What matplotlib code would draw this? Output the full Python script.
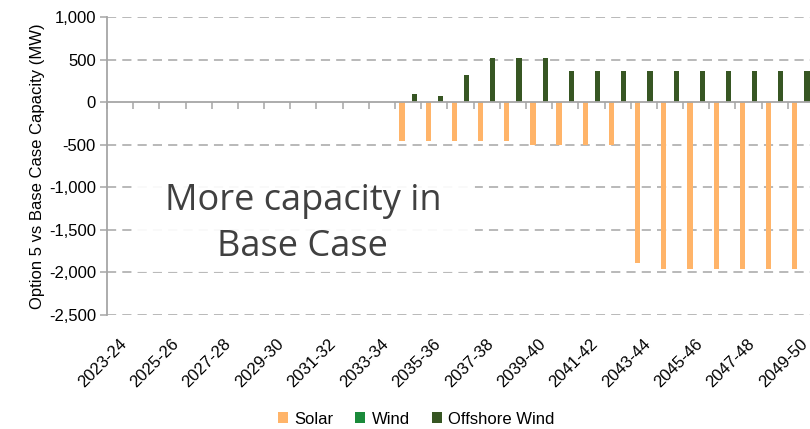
import numpy as np
import matplotlib.pyplot as plt
from matplotlib.patches import Rectangle

# Financial years 2023-24 .. 2049-50
years = [f"{y}-{str(y + 1)[-2:]}" for y in range(2023, 2050)]

solar = [0] * 11 + [-460, -460, -460, -460, -460, -500, -500, -500, -500,
                    -1890, -1960, -1960, -1960, -1960, -1960, -1960]
wind = [0] * 27
offshore = [0] * 11 + [100, 75, 320, 520, 520, 520,
                       370, 370, 370, 370, 370, 370, 370, 370, 370, 370]

yticks = [1000, 500, 0, -500, -1000, -1500, -2000, -2500]

c_solar = '#FFB469'
c_wind = '#1A8A3A'
c_off = '#375623'
grid_c = '#A6A6A6'

plt.rcParams['font.family'] = ['Liberation Sans', 'DejaVu Sans']

fig = plt.figure(figsize=(8.1, 4.29), dpi=100)
ax = fig.add_axes([107 / 810, 114 / 429, 707 / 810, 298 / 429])

x = np.arange(len(years))
bw = 0.2
off = 0.235
ax.bar(x - off, solar, bw, color=c_solar, label='Solar', zorder=3)
ax.bar(x, wind, bw, color=c_wind, label='Wind', zorder=3)
ax.bar(x + off, offshore, bw, color=c_off, label='Offshore Wind', zorder=3)

ax.set_xlim(-0.5, len(years) - 0.5)
ax.set_ylim(-2500, 1000)
ax.set_yticks(yticks)
ax.set_yticklabels([f"{v:,}" for v in yticks], fontsize=12)
for v in yticks:
    if v != 0:
        ax.axhline(v, color=grid_c, lw=1.1, ls=(0, (6, 4)), zorder=1)

# horizontal axis crosses at zero, ticks between categories
ax.spines['bottom'].set_position(('data', 0))
ax.spines['bottom'].set_color(grid_c)
ax.spines['bottom'].set_linewidth(1.3)
ax.spines['bottom'].set_zorder(4)
ax.set_xticks(np.arange(len(years) + 1) - 0.5)
ax.set_xticklabels([])
ax.tick_params(axis='x', direction='out', length=5, color=grid_c, width=1.1)
ax.spines['left'].set_color(grid_c)
ax.spines['left'].set_linewidth(1.3)
ax.tick_params(axis='y', direction='out', length=5, color=grid_c, width=1.1, pad=3)
ax.spines['top'].set_visible(False)
ax.spines['right'].set_visible(False)

# category labels at the bottom of the plot
for i in range(0, len(years), 2):
    ax.text(i - 0.05, -0.07, years[i], transform=ax.get_xaxis_transform(),
            rotation=45, ha='right', va='top', rotation_mode='anchor',
            fontsize=12)

ax.set_ylabel('Option 5 vs Base Case Capacity (MW)', fontsize=12, labelpad=3)

# annotation box
ax.add_patch(Rectangle((0.035, 0.145), 0.485, 0.39, transform=ax.transAxes,
                       facecolor='white', edgecolor='none', alpha=0.92, zorder=2))
ax.text(0.277, 0.305, 'More capacity in\nBase Case', transform=ax.transAxes,
        ha='center', va='center', fontsize=26, color='#404040',
        family=['Open Sans', 'DejaVu Sans'], linespacing=1.35, zorder=2.5)

fig.legend(loc='center', bbox_to_anchor=(0.514, 10 / 429), ncol=3,
           frameon=False, fontsize=12, handlelength=0.6, handleheight=0.6,
           handletextpad=0.4, columnspacing=1.3)

fig.savefig('out.png', dpi=100)
